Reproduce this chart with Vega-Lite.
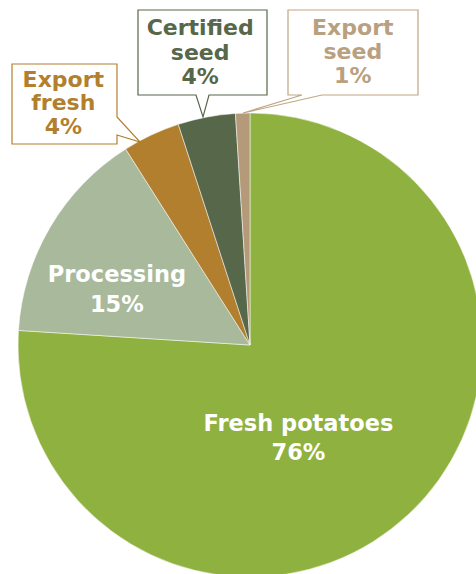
{
  "$schema": "https://vega.github.io/schema/vega-lite/v6.json",
  "width": 500,
  "height": 690,
  "autosize": {"type": "none"},
  "padding": {"left": 0, "top": 0, "right": -24, "bottom": -116},
  "background": "white",
  "config": {"view": {"stroke": null}, "text": {"font": "DejaVu Sans"}},
  "data": {
    "values": [
      {"category": "Fresh potatoes", "share": 76, "rank": 1, "label": "Fresh potatoes\n76%"},
      {"category": "Processing", "share": 15, "rank": 2, "label": "Processing\n15%"},
      {"category": "Export fresh", "share": 4, "rank": 3, "label": "Export\nfresh\n4%"},
      {"category": "Certified seed", "share": 4, "rank": 4, "label": "Certified\nseed\n4%"},
      {"category": "Export seed", "share": 1, "rank": 5, "label": "Export\nseed\n1%"}
    ]
  },
  "layer": [
    {
      "mark": {"type": "arc", "radius": 232, "stroke": "white", "strokeWidth": 0.5},
      "encoding": {
        "theta": {"field": "share", "type": "quantitative", "stack": true},
        "order": {"field": "rank", "type": "quantitative"},
        "color": {
          "field": "category",
          "type": "nominal",
          "scale": {
            "domain": ["Fresh potatoes", "Processing", "Export fresh", "Certified seed", "Export seed"],
            "range": ["#8fb13f", "#a9b99b", "#b27f2e", "#57674a", "#b59a7a"]
          },
          "legend": null
        }
      }
    },
    {
      "transform": [{"filter": {"field": "category", "oneOf": ["Export fresh", "Certified seed", "Export seed"]}}],
      "mark": {"type": "point", "size": 4, "filled": true, "fill": "white", "strokeWidth": 1.2, "opacity": 1},
      "encoding": {
        "shape": {
          "field": "category",
          "type": "nominal",
          "scale": {
            "domain": ["Export fresh", "Certified seed", "Export seed"],
            "range": [
              "M-238,-281H-133V-228L-110,-203L-133,-210V-201H-238Z",
              "M-112,-335H17V-250H-41L-47,-228L-54,-250H-112Z",
              "M38,-335H168V-250H72L-7,-232L52,-250H38Z"
            ]
          },
          "legend": null
        },
        "stroke": {
          "field": "category",
          "type": "nominal",
          "scale": {
            "domain": ["Fresh potatoes", "Processing", "Export fresh", "Certified seed", "Export seed"],
            "range": ["#8fb13f", "#a9b99b", "#b27f2e", "#57674a", "#bfa684"]
          },
          "legend": null
        }
      }
    },
    {
      "mark": {"type": "text", "radius": 100, "dx": -20, "dy": 6.5, "fontSize": 22.5, "fontWeight": "bold", "lineBreak": "\n", "lineHeight": 29, "color": "white"},
      "encoding": {
        "theta": {"field": "share", "type": "quantitative", "stack": true},
        "order": {"field": "rank", "type": "quantitative"},
        "text": {"condition": {"test": "datum.category === 'Fresh potatoes'", "field": "label", "type": "nominal"}, "value": ""}
      }
    },
    {
      "mark": {"type": "text", "radius": 150, "dx": -4, "dy": 6, "fontSize": 22.5, "fontWeight": "bold", "lineBreak": "\n", "lineHeight": 30, "color": "white"},
      "encoding": {
        "theta": {"field": "share", "type": "quantitative", "stack": true},
        "order": {"field": "rank", "type": "quantitative"},
        "text": {"condition": {"test": "datum.category === 'Processing'", "field": "label", "type": "nominal"}, "value": ""}
      }
    },
    {
      "mark": {"type": "text", "radius": 267, "dx": -73, "dy": -23.5, "fontSize": 22, "fontWeight": "bold", "lineBreak": "\n", "lineHeight": 23.5, "color": "#b27f2e"},
      "encoding": {
        "theta": {"field": "share", "type": "quantitative", "stack": true},
        "order": {"field": "rank", "type": "quantitative"},
        "text": {"condition": {"test": "datum.category === 'Export fresh'", "field": "label", "type": "nominal"}, "value": ""}
      }
    },
    {
      "mark": {"type": "text", "radius": 298, "dx": 6, "dy": -24, "fontSize": 22, "fontWeight": "bold", "lineBreak": "\n", "lineHeight": 24.5, "color": "#57674a"},
      "encoding": {
        "theta": {"field": "share", "type": "quantitative", "stack": true},
        "order": {"field": "rank", "type": "quantitative"},
        "text": {"condition": {"test": "datum.category === 'Certified seed'", "field": "label", "type": "nominal"}, "value": ""}
      }
    },
    {
      "mark": {"type": "text", "radius": 293, "dx": 112, "dy": -24, "fontSize": 22, "fontWeight": "bold", "lineBreak": "\n", "lineHeight": 24, "color": "#b9a07f"},
      "encoding": {
        "theta": {"field": "share", "type": "quantitative", "stack": true},
        "order": {"field": "rank", "type": "quantitative"},
        "text": {"condition": {"test": "datum.category === 'Export seed'", "field": "label", "type": "nominal"}, "value": ""}
      }
    }
  ]
}
